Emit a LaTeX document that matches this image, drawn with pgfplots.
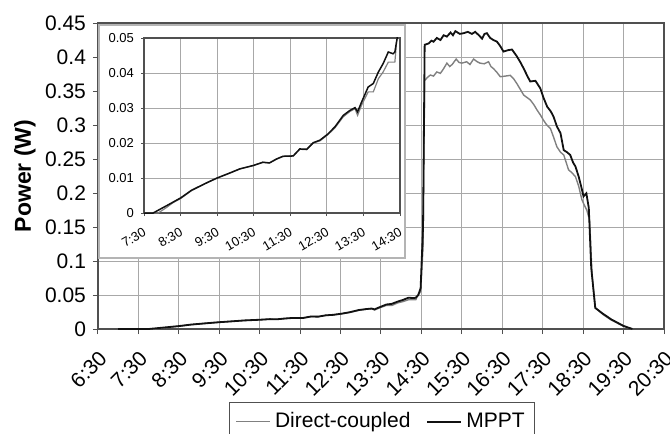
\documentclass[border=0pt]{standalone}
\usepackage{pgfplots}
\pgfplotsset{compat=1.18}
\usepackage{pgfplotstable}
\usepackage{fontspec}
\setmainfont{Liberation Sans}
\definecolor{gridc}{HTML}{A8A8A8}
\definecolor{framec}{HTML}{505050}
\definecolor{dcgrey}{HTML}{808080}
\definecolor{mppt}{HTML}{111111}
\definecolor{boxc}{HTML}{B4B4B4}

% time in decimal hours, power in W
\pgfplotstableread{
t p
7.00 0
7.89 0
8.12 0.0016
8.30 0.0030
8.50 0.0041
8.80 0.0064
9.21 0.0086
9.50 0.0100
9.84 0.0114
10.12 0.0126
10.50 0.0136
10.75 0.0145
10.93 0.0143
11.12 0.0154
11.30 0.0162
11.58 0.0163
11.76 0.0182
11.95 0.0181
12.13 0.0200
12.31 0.0206
12.52 0.0223
12.72 0.0243
12.95 0.0275
13.13 0.0290
13.27 0.0298
13.34 0.0279
13.45 0.0308
13.63 0.0346
13.77 0.0346
13.91 0.0384
14.04 0.0403
14.18 0.0431
14.36 0.0431
14.41 0.0493
14.48 0.055
14.54 0.12
14.58 0.365
14.63 0.369
14.72 0.3735
14.80 0.372
14.88 0.378
14.97 0.376
15.05 0.383
15.13 0.391
15.20 0.386
15.26 0.389
15.36 0.397
15.43 0.392
15.50 0.391
15.62 0.393
15.70 0.389
15.79 0.397
15.88 0.393
15.95 0.391
16.05 0.390
16.16 0.393
16.22 0.386
16.28 0.383
16.36 0.378
16.45 0.371
16.58 0.372
16.70 0.373
16.78 0.368
16.86 0.361
16.95 0.352
17.03 0.344
17.19 0.337
17.28 0.330
17.36 0.322
17.44 0.315
17.52 0.307
17.60 0.300
17.69 0.295
17.77 0.282
17.85 0.268
17.94 0.260
18.02 0.256
18.08 0.245
18.14 0.234
18.22 0.230
18.31 0.224
18.39 0.210
18.47 0.190
18.53 0.182
18.59 0.175
18.66 0.160
18.72 0.080
18.80 0.031
19.00 0.021
19.20 0.013
19.50 0.0040
19.72 0
}\direct

\pgfplotstableread{
t p
7.00 0
7.75 0
8.12 0.0021
8.50 0.0043
8.80 0.0065
9.21 0.0086
9.50 0.0100
9.84 0.0114
10.12 0.0126
10.50 0.0136
10.75 0.0145
10.93 0.0143
11.12 0.0154
11.30 0.0162
11.58 0.0163
11.76 0.0183
11.95 0.0182
12.13 0.0201
12.31 0.0208
12.52 0.0225
12.72 0.0246
12.95 0.0279
13.13 0.0293
13.27 0.0301
13.34 0.0289
13.45 0.0317
13.63 0.0360
13.77 0.0370
13.91 0.0403
14.04 0.0427
14.18 0.0460
14.31 0.0455
14.36 0.0460
14.42 0.0498
14.48 0.060
14.54 0.150
14.58 0.418
14.68 0.420
14.75 0.424
14.80 0.4225
14.88 0.428
14.97 0.425
15.05 0.432
15.13 0.430
15.22 0.436
15.28 0.432
15.34 0.438
15.45 0.434
15.54 0.435
15.65 0.437
15.75 0.434
15.83 0.437
15.92 0.432
16.00 0.427
16.06 0.434
16.12 0.435
16.20 0.428
16.28 0.425
16.37 0.4225
16.45 0.416
16.53 0.408
16.64 0.410
16.74 0.411
16.86 0.401
16.95 0.392
17.03 0.383
17.12 0.372
17.19 0.364
17.32 0.365
17.44 0.354
17.52 0.340
17.61 0.327
17.70 0.320
17.77 0.312
17.85 0.298
17.94 0.288
18.02 0.263
18.10 0.260
18.18 0.256
18.25 0.245
18.31 0.239
18.39 0.224
18.45 0.210
18.51 0.195
18.58 0.1995
18.64 0.178
18.70 0.090
18.80 0.031
19.00 0.022
19.20 0.014
19.50 0.0045
19.72 0
}\mppt

\begin{document}
\begin{tikzpicture}
\begin{axis}[
  scale only axis, width=283pt, height=153pt,
  xmin=6.5, xmax=20.5, ymin=0, ymax=0.45,
  xtick={6.5,7.5,...,20.5},
  xticklabels={6:30,7:30,8:30,9:30,10:30,11:30,12:30,13:30,14:30,15:30,16:30,17:30,18:30,19:30,20:30},
  ytick={0,0.05,...,0.45},
  yticklabels={0,0.05,0.1,0.15,0.2,0.25,0.3,0.35,0.4,0.45},
  scaled ticks=false,
  /pgf/number format/assume math mode=true,
  ticklabel style={font=\fontsize{10.5}{12}\selectfont},
  xticklabel style={rotate=45, anchor=north east, xshift=-2.2pt, yshift=-2pt},
  tick pos=left, tick align=outside, major tick length=2.5pt,
  tick style={framec, line width=0.5pt},
  grid=major, grid style={gridc, line width=0.5pt},
  axis line style={framec, line width=0.6pt},
  ylabel={\bfseries Power (W)},
  ylabel style={font=\fontsize{11.5}{13}\selectfont, at={(axis description cs:-0.129,0.5)}, anchor=center},
  legend style={at={(0.502,-0.2386)}, anchor=north, draw=framec, line width=0.6pt,
    font=\fontsize{10.5}{12}\selectfont, legend columns=2,
    inner xsep=3pt, inner ysep=3pt,
    /tikz/every even column/.append style={column sep=6pt}},
  legend image code/.code={\draw[#1] (0pt,0pt) -- (17pt,0pt);},
]
\addplot[dcgrey, line width=0.7pt] table[x=t, y=p] {\direct};
\addplot[mppt, line width=0.9pt] table[x=t, y=p] {\mppt};
\legend{Direct-coupled, MPPT}
\end{axis}

\fill[white, draw=boxc, line width=0.6pt] (0.5pt,35.5pt) rectangle (153.5pt,152pt);

\begin{axis}[
  at={(23pt,58pt)}, anchor=south west,
  scale only axis, width=128pt, height=87.5pt,
  xmin=7.5, xmax=14.5, ymin=0, ymax=0.05,
  xtick={7.5,8.5,...,14.5},
  xticklabels={7:30,8:30,9:30,10:30,11:30,12:30,13:30,14:30},
  ytick={0,0.01,...,0.05},
  yticklabels={0,0.01,0.02,0.03,0.04,0.05},
  scaled ticks=false,
  /pgf/number format/assume math mode=true,
  ticklabel style={font=\fontsize{6.5}{7.5}\selectfont},
  xticklabel style={rotate=30, anchor=north east, yshift=-1pt},
  tick pos=left, tick align=outside, major tick length=1.5pt,
  tick style={framec, line width=0.4pt},
  grid=major, grid style={gridc, line width=0.45pt},
  axis line style={framec, line width=0.6pt},
]
\addplot[dcgrey, line width=0.6pt] table[x=t, y=p] {\direct};
\addplot[mppt, line width=0.75pt] table[x=t, y=p] {\mppt};
\end{axis}

\pgfresetboundingbox
\path (-49pt,-52.5pt) rectangle (286pt,164.5pt);
\end{tikzpicture}
\end{document}
